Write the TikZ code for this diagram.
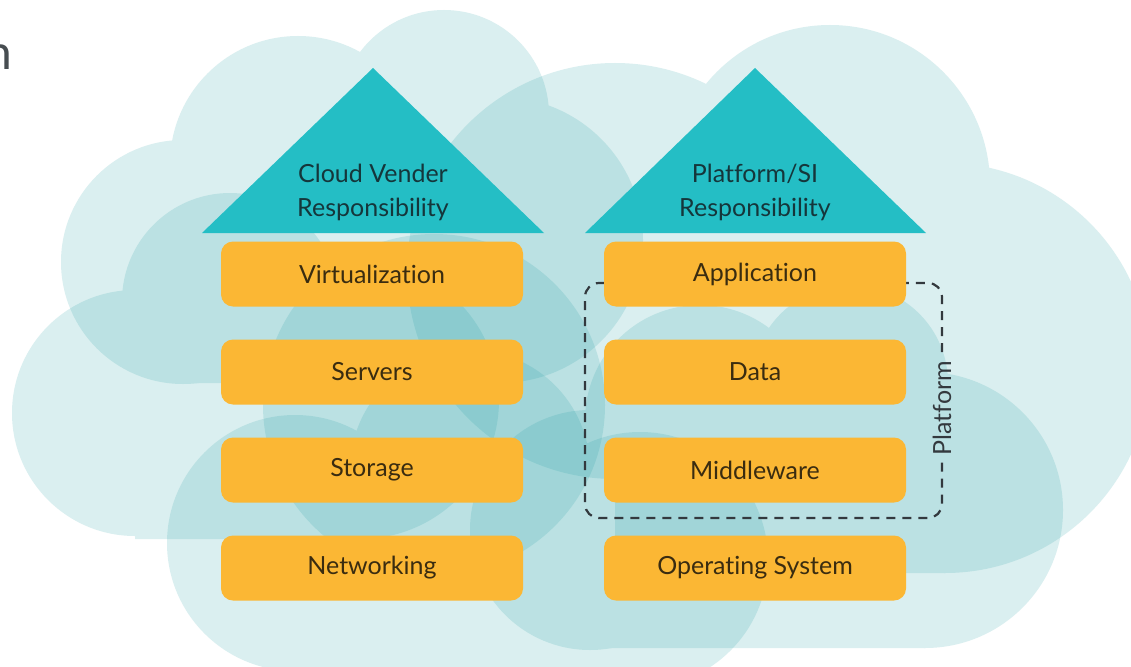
\documentclass[tikz,border=0pt]{standalone}
\usepackage{fontspec}
\setmainfont{Lato}[Ligatures=NoCommon]
\usetikzlibrary{positioning}
\definecolor{CloudTeal}{HTML}{1B9CA2}
\definecolor{RoofTeal}{HTML}{24BEC5}
\definecolor{LayerGold}{HTML}{FBB734}
\definecolor{LayerText}{HTML}{3A2C10}
\definecolor{RoofText}{HTML}{15363B}
\definecolor{FrameGray}{HTML}{33393E}

\tikzset{
  cloud/.style={transparency group,opacity=0.16},
  layer/.style={fill=LayerGold,rounded corners=12pt,minimum width=302pt,minimum height=65pt,
    inner sep=0pt,text=LayerText,font=\fontsize{25}{30}\selectfont},
  rooftext/.style={text=RoofText,align=center,inner sep=0pt,font=\fontsize{25}{34}\selectfont},
  frame/.style={FrameGray,line width=2.2pt,dash pattern=on 9pt off 7pt,rounded corners=14pt}
}

\begin{document}
\begin{tikzpicture}[x=1pt,y=-1pt]
  \useasboundingbox (0,0) rectangle (1131,666);
  \fill[white] (0,0) rectangle (1131,666);

  % clouds, back to front
  \begin{scope}[cloud]
    \fill[CloudTeal] (183,262) circle[radius=122] (298,164) circle[radius=128]
      (444,115) circle[radius=105] (500,240) circle[radius=143];
    \fill[CloudTeal] (183,160) rectangle (500,383);
  \end{scope}
  \begin{scope}[cloud]
    \fill[CloudTeal] (135,413) circle[radius=123] (230,301) circle[radius=108]
      (360,400) circle[radius=139];
    \fill[CloudTeal] (135,300) rectangle (360,539);
  \end{scope}
  \begin{scope}[cloud]
    \fill[CloudTeal] (615,271) circle[radius=208] (830,185) circle[radius=160]
      (945,368) circle[radius=205];
    \fill[CloudTeal] (615,185) rectangle (945,573);
  \end{scope}
  \begin{scope}[cloud]
    \fill[CloudTeal] (434,405) circle[radius=171];
  \end{scope}
  \begin{scope}[cloud]
    \fill[CloudTeal] (295,543) circle[radius=128] (470,470) circle[radius=120]
      (640,560) circle[radius=128];
    \fill[CloudTeal] (295,470) rectangle (640,700);
  \end{scope}
  \begin{scope}[cloud]
    \fill[CloudTeal] (590,530) circle[radius=120] (700,420) circle[radius=115]
      (850,383) circle[radius=98] (925,510) circle[radius=138];
    \fill[CloudTeal] (590,420) rectangle (925,648);
  \end{scope}

  % title letter at the left edge
  \node[anchor=base east,inner sep=0pt,text=FrameGray!90,font=\fontsize{48}{48}\selectfont] (ttl) at (12,70) {n};

  % roofs
  \fill[RoofTeal] (202,233) -- (373,68) -- (544,233) -- cycle;
  \fill[RoofTeal] (585,233) -- (755,68) -- (926,233) -- cycle;
  \node[rooftext] (vendroof) at (373,192) {Cloud Vender\\Responsibility};
  \node[rooftext] (siroof) at (755,192) {Platform/SI\\Responsibility};

  % platform frame, open where the label sits
  \coordinate (fr) at (942,352);
  \draw[frame] (fr) -- (942,283) -- (585,283) -- (585,518) -- (942,518) -- (942,462);
  \node[rotate=90,text=FrameGray,inner sep=0pt,font=\fontsize{25}{30}\selectfont] (pform) at (942,408) {Platform};

  % layers
  \foreach [count=\i] \lbl in {Virtualization,Servers,Storage,Networking}
    \node[layer] (vend\i) at (372,176+98*\i) {\lbl};
  \foreach [count=\i] \lbl in {Application,Data,Middleware,Operating System}
    \node[layer] (plat\i) at (755,176+98*\i) {\lbl};
\end{tikzpicture}
\end{document}
